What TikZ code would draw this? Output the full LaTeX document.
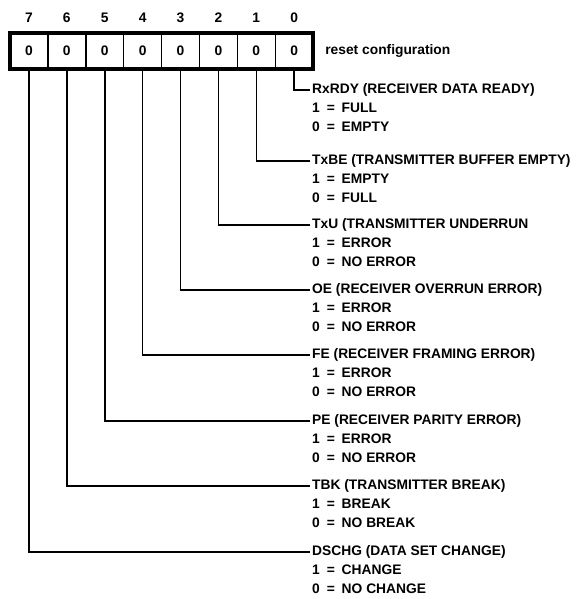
\documentclass[tikz,border=0pt]{standalone}
\usepackage{fontspec}
\setmainfont{Liberation Sans}
\usetikzlibrary{positioning}
\newcommand{\iseq}{\enspace=\enspace}

\begin{document}
\begin{tikzpicture}[
    x=1pt, y=-1pt,
    font=\fontsize{13.8}{19}\selectfont\bfseries,
    every node/.style={inner sep=2pt},
    cell/.style={draw, line width=1.5pt, outer sep=0pt, minimum width=37.9pt, minimum height=36pt},
    frame/.style={line width=4pt},
    wire/.style={line width=1.6pt},
    head/.style={anchor=west, text height=10pt, text depth=3pt},
    vals/.style={align=left},
]
\useasboundingbox (0,0) rectangle (582,599);

% --- Register cells, bit 7 on the left
\node[cell] (b7) at (28.9,51) {0};
\node[cell, right=0pt of b7] (b6) {0};
\node[cell, right=0pt of b6] (b5) {0};
\node[cell, right=0pt of b5] (b4) {0};
\node[cell, right=0pt of b4] (b3) {0};
\node[cell, right=0pt of b3] (b2) {0};
\node[cell, right=0pt of b2] (b1) {0};
\node[cell, right=0pt of b1] (b0) {0};
\draw[frame] (b7.north west) rectangle (b0.south east);

% --- Bit numbers
\node[above=8pt of b7] (n7) {7};
\node[above=8pt of b6] (n6) {6};
\node[above=8pt of b5] (n5) {5};
\node[above=8pt of b4] (n4) {4};
\node[above=8pt of b3] (n3) {3};
\node[above=8pt of b2] (n2) {2};
\node[above=8pt of b1] (n1) {1};
\node[above=8pt of b0] (n0) {0};
\node[right=10pt of b0] (reset) {reset configuration};

% --- Bit descriptions
\node[head] (rxrdy) at (310,90)  {RxRDY (RECEIVER DATA READY)};
\node[head] (txbe)  at (310,161) {TxBE (TRANSMITTER BUFFER EMPTY)};
\node[head] (txu)   at (310,225) {TxU (TRANSMITTER UNDERRUN};
\node[head] (oe)    at (310,290) {OE (RECEIVER OVERRUN ERROR)};
\node[head] (fe)    at (310,355) {FE (RECEIVER FRAMING ERROR)};
\node[head] (pe)    at (310,421) {PE (RECEIVER PARITY ERROR)};
\node[head] (tbk)   at (310,486) {TBK (TRANSMITTER BREAK)};
\node[head] (dschg) at (310,552) {DSCHG (DATA SET CHANGE)};

\node[vals, below right=2.3pt and 0pt of rxrdy.south west] (rxrdyv) {1\iseq FULL\\0\iseq EMPTY};
\node[vals, below right=2.3pt and 0pt of txbe.south west]  (txbev)  {1\iseq EMPTY\\0\iseq FULL};
\node[vals, below right=2.3pt and 0pt of txu.south west]   (txuv)   {1\iseq ERROR\\0\iseq NO ERROR};
\node[vals, below right=2.3pt and 0pt of oe.south west]    (oev)    {1\iseq ERROR\\0\iseq NO ERROR};
\node[vals, below right=2.3pt and 0pt of fe.south west]    (fev)    {1\iseq ERROR\\0\iseq NO ERROR};
\node[vals, below right=2.3pt and 0pt of pe.south west]    (pev)    {1\iseq ERROR\\0\iseq NO ERROR};
\node[vals, below right=2.3pt and 0pt of tbk.south west]   (tbkv)   {1\iseq BREAK\\0\iseq NO BREAK};
\node[vals, below right=2.3pt and 0pt of dschg.south west] (dschgv) {1\iseq CHANGE\\0\iseq NO CHANGE};

% --- Leads from the cells
\draw[wire] (b0.south) |- (rxrdy.west);
\draw[wire] (b1.south) |- (txbe.west);
\draw[wire] (b2.south) |- (txu.west);
\draw[wire] (b3.south) |- (oe.west);
\draw[wire] (b4.south) |- (fe.west);
\draw[wire] (b5.south) |- (pe.west);
\draw[wire] (b6.south) |- (tbk.west);
\draw[wire] (b7.south) |- (dschg.west);

\end{tikzpicture}
\end{document}
